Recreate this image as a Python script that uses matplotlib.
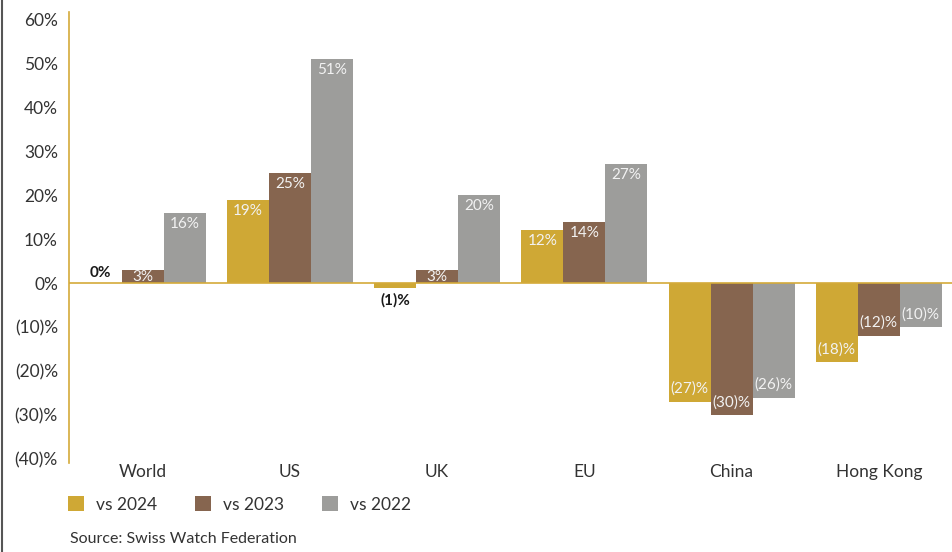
import matplotlib.pyplot as plt
import numpy as np
from matplotlib.patches import Patch
from matplotlib.lines import Line2D

plt.rcParams['font.family'] = ['Lato', 'DejaVu Sans']

# Swiss watch export growth by market
markets = ['World', 'US', 'UK', 'EU', 'China', 'Hong Kong']
vs_2024 = [0, 19, -1, 12, -27, -18]
vs_2023 = [3, 25, 3, 14, -30, -12]
vs_2022 = [16, 51, 20, 27, -26, -10]
series_names = ['vs 2024', 'vs 2023', 'vs 2022']
y_ticks = [60, 50, 40, 30, 20, 10, 0, -10, -20, -30, -40]
y_tick_labels = ['60%', '50%', '40%', '30%', '20%', '10%', '0%',
                 '(10)%', '(20)%', '(30)%', '(40)%']

colors = ['#CFA835', '#86654F', '#9D9D9B']
gold_line = '#D4AA3A'


def fmt(v):
    return f'({abs(v)})%' if v < 0 else f'{v}%'


fig = plt.figure(figsize=(9.53, 5.52), dpi=100)
ax = fig.add_axes([0.0724, 0.161, 0.927, 0.817])

x = np.arange(len(markets))
w = 0.285
for i, (vals, c) in enumerate(zip([vs_2024, vs_2023, vs_2022], colors)):
    pos = x + (i - 1) * w
    ax.bar(pos, vals, width=w, color=c, zorder=2)
    for px, v in zip(pos, vals):
        if abs(v) <= 1:
            # tiny bars: dark label outside the bar
            off = 10 if v >= 0 else -13
            ax.annotate(fmt(v), (px, v), xytext=(0, off), textcoords='offset pixels',
                        ha='center', va='center', color='#1a1a1a',
                        fontsize=11, fontweight='bold')
        else:
            off = -11 if v > 0 else 13
            if v == 3:
                off = -7
            ax.annotate(fmt(v), (px, v), xytext=(0, off), textcoords='offset pixels',
                        ha='center', va='center', color='#F2F2F2',
                        fontsize=11)

ax.axhline(0, color=gold_line, lw=1.2, zorder=3)
ax.set_xlim(-0.5, 5.5)
ax.set_ylim(-40.9, 61.6)
ax.set_yticks(y_ticks, y_tick_labels, fontsize=12.5, color='#333333')
ax.set_xticks([])
ax.tick_params(axis='y', length=0, pad=8)
for s in ['top', 'right', 'bottom']:
    ax.spines[s].set_visible(False)
ax.spines['left'].set_color(gold_line)
ax.spines['left'].set_linewidth(1.2)

# category names under the axis
for xi, name in zip(x, markets):
    ax.annotate(name, (xi, 0), xycoords=('data', 'axes fraction'), xytext=(0, -9),
                textcoords='offset pixels', ha='center', va='center',
                fontsize=12.5, color='#333333')

handles = [Patch(facecolor=c, label=n) for c, n in zip(colors, series_names)]
fig.legend(handles=handles, loc='center left', bbox_to_anchor=(0.055, 0.086),
           ncol=3, frameon=False, fontsize=12.5, handlelength=0.9, handleheight=0.9,
           handletextpad=0.7, columnspacing=2.2, labelcolor='#333333')

fig.text(0.073, 0.023, 'Source: Swiss Watch Federation', fontsize=11.5,
         color='#333333', va='center', ha='left')

# thin frame line on the left edge
fig.add_artist(Line2D([0.0025, 0.0025], [0, 1], transform=fig.transFigure,
                      color='#555555', lw=1.5))

fig.savefig('out.png', dpi=100)
